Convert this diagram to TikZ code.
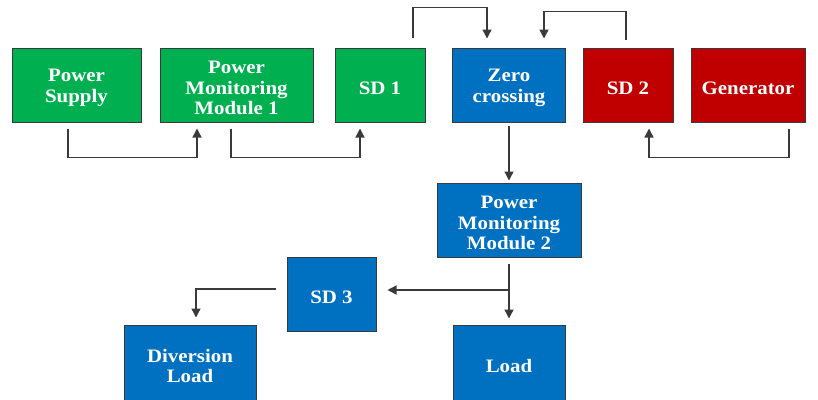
\documentclass[tikz,border=0pt]{standalone}
\usepackage{fontspec}
\setmainfont{Liberation Serif}
\newfontfamily\boxfont[FakeStretch=1.1]{Liberation Serif}
\usetikzlibrary{arrows.meta,calc}
\definecolor{gbox}{HTML}{00B050}
\definecolor{bbox}{HTML}{0070C0}
\definecolor{rbox}{HTML}{C00000}
\definecolor{edge}{HTML}{3A3A3A}
\tikzset{
  blk/.style={draw=edge, line width=1pt, inner sep=0pt, minimum height=74pt},
  lbl/.style={text=white, align=center, inner sep=0pt, yshift=-3pt,
    font=\boxfont\bfseries\fontsize{19}{20.5}\selectfont},
  txt/.style={label={[lbl]center:{#1}}},
  arr/.style={draw=edge, line width=1.3pt, -{Triangle[width=9pt,length=9pt]}}
}
\begin{document}
\begin{tikzpicture}[x=1pt,y=-1pt]
\useasboundingbox (0,0) rectangle (818,399);
\clip (0,0) rectangle (818,399);
% top row
\node[blk, fill=gbox, minimum width=129pt, txt={Power\\Supply}] (ps) at (76.5,85) {};
\node[blk, fill=gbox, minimum width=153pt, txt={Power\\Monitoring\\Module 1}] (pmm1) at (236.5,85) {};
\node[blk, fill=gbox, minimum width=90pt, txt={SD 1}] (sd1) at (380,85) {};
\node[blk, fill=bbox, minimum width=113pt, txt={Zero\\crossing}] (zc) at (509,85) {};
\node[blk, fill=rbox, minimum width=90pt, txt={SD 2}] (sd2) at (628,85) {};
\node[blk, fill=rbox, minimum width=114pt, txt={Generator}] (gen) at (748,85) {};
% lower
\node[blk, fill=bbox, minimum width=144pt, txt={Power\\Monitoring\\Module 2}] (pmm2) at (509,220) {};
\node[blk, fill=bbox, minimum width=89pt, txt={SD 3}] (sd3) at (331.5,294) {};
\node[blk, fill=bbox, minimum width=112pt, minimum height=76pt, txt={Load}] (load) at (509,363) {};
\node[blk, fill=bbox, minimum width=132pt, minimum height=76pt, txt={Diversion\\Load}] (div) at (190,363) {};
% connectors
\draw[arr] ([xshift=-8.5pt,yshift=-6pt]ps.south) -- ++(0,29) -| ([xshift=-39.5pt,yshift=-6pt]pmm1.south);
\draw[arr] ([xshift=-5.5pt,yshift=-6pt]pmm1.south) -- ++(0,29) -| ([xshift=-20pt,yshift=-6pt]sd1.south);
\draw[arr] ([xshift=33pt,yshift=10pt]sd1.north) -- ++(0,-30) -| ([xshift=-22pt,yshift=9pt]zc.north);
\draw[arr] ([xshift=-2pt,yshift=8pt]sd2.north) -- ++(0,-28) -| ([xshift=35pt,yshift=9pt]zc.north);
\draw[arr] ([xshift=41pt,yshift=-6pt]gen.south) -- ++(0,29) -| ([xshift=21pt,yshift=-6pt]sd2.south);
\draw[arr] ([yshift=-3pt]zc.south) -- ([yshift=2pt]pmm2.north);
\draw[arr] ([yshift=-6pt]pmm2.south) -- ([yshift=6pt]load.north);
\coordinate (br) at (509,290);
\draw[arr] (br) -- ([xshift=11pt,yshift=4pt]sd3.east);
\draw[arr] ([xshift=-11pt,yshift=5pt]sd3.west) -| ([xshift=6pt,yshift=7pt]div.north);
\end{tikzpicture}
\end{document}
